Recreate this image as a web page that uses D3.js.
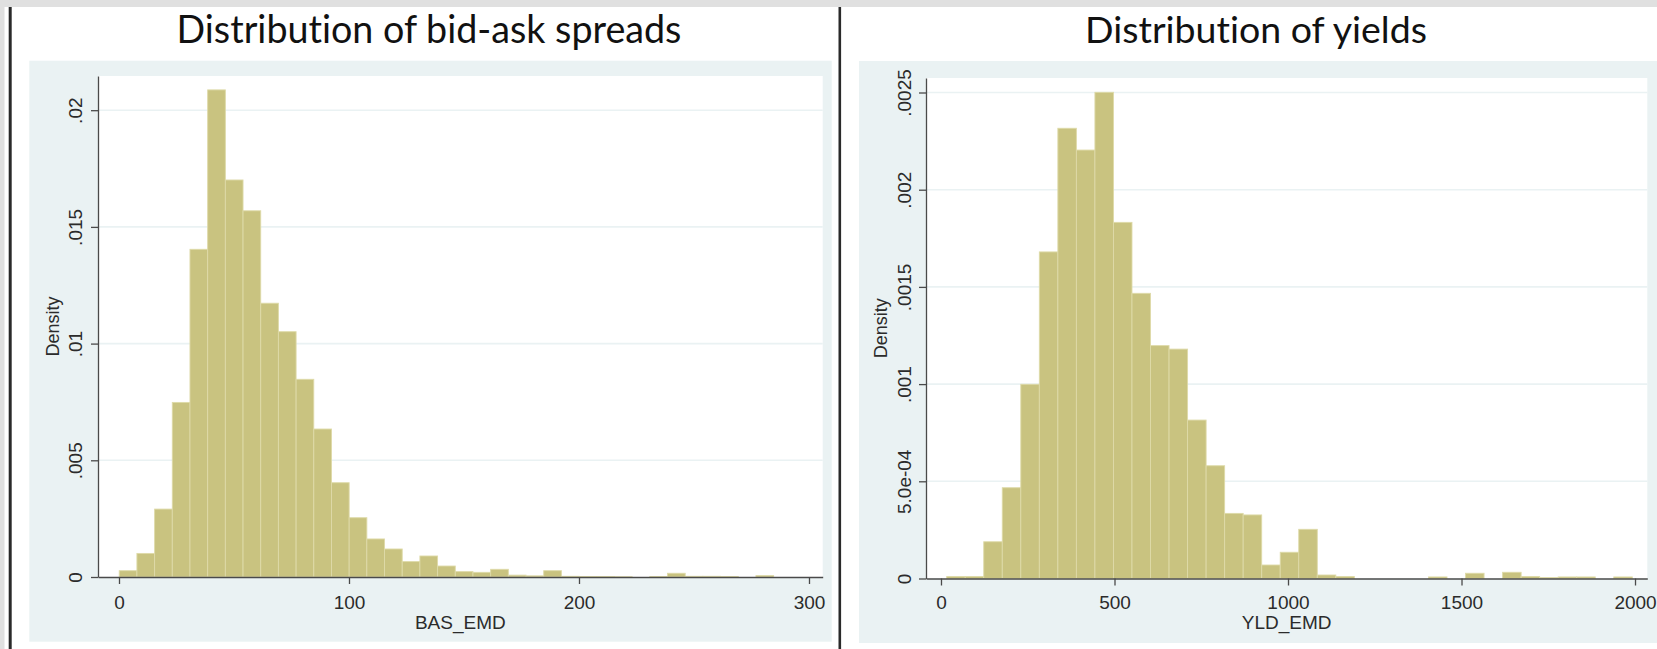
<!DOCTYPE html>
<html>
<head>
<meta charset="utf-8">
<script src="https://cdn.jsdelivr.net/npm/d3@7"></script>
<style>
  html, body { margin: 0; padding: 0; background: #ffffff; }
  svg { display: block; }
</style>
</head>
<body>
<svg id="chart" width="1657" height="649"></svg>
<script>
// ---------------- DATA ----------------
const basTitle = "Distribution of bid-ask spreads";
const basXLabel = "BAS_EMD";
const basBinStart = 0.1;
const basBinWidth = 7.69;
const basDensity = [0.00027, 0.00101, 0.00291, 0.00748, 0.01404, 0.02087, 0.01701, 0.01569,
  0.01173, 0.01051, 0.00847, 0.00634, 0.00404, 0.00254, 0.00163, 0.0012, 0.00066, 0.0009,
  0.00047, 0.00023, 0.0002, 0.00033, 0.00008, 0.00005, 0.00027, 0.00003, 0.00002, 0.00002,
  0.00001, 0, 0.00002, 0.00016, 0.00003, 0.00003, 0.00002, 0, 0.00006];
const basXTicks = [0, 100, 200, 300];
const basXTickLabels = ["0", "100", "200", "300"];
const basYTicks = [0, 0.005, 0.01, 0.015, 0.02];
const basYTickLabels = ["0", ".005", ".01", ".015", ".02"];

const yldTitle = "Distribution of yields";
const yldXLabel = "YLD_EMD";
const yldBinStart = 16.4;
const yldBinWidth = 53.4;
const yldDensity = [0.00001, 0.00001, 0.000189, 0.000467, 0.000999, 0.00168, 0.002316, 0.002204,
  0.002501, 0.001832, 0.001467, 0.001198, 0.00118, 0.000815, 0.00058, 0.000335, 0.000327,
  0.0000694, 0.000135, 0.000253, 0.000018, 0.00001, 0, 0, 0, 0, 0.000008, 0, 0.000027, 0,
  0.000032, 0.00001, 0.000005, 0.000008, 0.000008, 0, 0.000008];
const yldXTicks = [0, 500, 1000, 1500, 2000];
const yldXTickLabels = ["0", "500", "1000", "1500", "2000"];
const yldYTicks = [0, 0.0005, 0.001, 0.0015, 0.002, 0.0025];
const yldYTickLabels = ["0", "5.0e-04", ".001", ".0015", ".002", ".0025"];

const yLabel = "Density";

// ---------------- STYLE / LAYOUT ----------------
const COLORS = {
  frameGray: "#e0e0e0",
  divider: "#2a2a2a",
  outer: "#eaf2f3",
  plot: "#ffffff",
  grid: "#eaf2f3",
  bar: "#c9c380",
  barEdge: "#dedaa8",
  axis: "#4a4a4a",
  text: "#2b2b2b",
  title: "#111111"
};
const AXIS_FONT = "'Liberation Sans', Arial, sans-serif";
const TITLE_FONT = "Lato, 'Open Sans', sans-serif";

const svg = d3.select("#chart");
const W = 1657, H = 649;

svg.append("rect").attr("x", 0).attr("y", 0).attr("width", W).attr("height", H).attr("fill", "#ffffff");
svg.append("rect").attr("x", 0).attr("y", 0).attr("width", W).attr("height", 7).attr("fill", COLORS.frameGray);
svg.append("rect").attr("x", 0).attr("y", 0).attr("width", 4.5).attr("height", H).attr("fill", COLORS.frameGray);
svg.append("rect").attr("x", 8.7).attr("y", 7).attr("width", 3).attr("height", H - 7).attr("fill", COLORS.divider);
svg.append("rect").attr("x", 838.5).attr("y", 7).attr("width", 2.6).attr("height", H - 7).attr("fill", COLORS.divider);

const panels = [
  {
    title: basTitle, titleCx: 429, titleW: 505,
    xLabel: basXLabel, binStart: basBinStart, binWidth: basBinWidth, density: basDensity,
    xTicks: basXTicks, xTickLabels: basXTickLabels, yTicks: basYTicks, yTickLabels: basYTickLabels,
    outer: [29.3, 60.7, 831.7, 641.7],
    plot: [98, 76, 822.7, 577],
    xDomain: [-9.13, 305.96], yDomain: [0, 0.021465],
    yTickBase: 82, yLabelBase: 58.5
  },
  {
    title: yldTitle, titleCx: 1256, titleW: 342,
    xLabel: yldXLabel, binStart: yldBinStart, binWidth: yldBinWidth, density: yldDensity,
    xTicks: yldXTicks, xTickLabels: yldXTickLabels, yTicks: yldYTicks, yTickLabels: yldYTickLabels,
    outer: [859, 61, 1657, 643],
    plot: [926, 78, 1647.3, 578.5],
    xDomain: [-43.2, 2035.4], yDomain: [0, 0.0025746],
    yTickBase: 910.5, yLabelBase: 886.5
  }
];

panels.forEach(p => {
  const g = svg.append("g");
  const [ox0, oy0, ox1, oy1] = p.outer;
  const [px0, py0, px1, py1] = p.plot;

  g.append("rect").attr("x", ox0).attr("y", oy0).attr("width", ox1 - ox0).attr("height", oy1 - oy0)
    .attr("fill", COLORS.outer);
  g.append("rect").attr("x", px0).attr("y", py0).attr("width", px1 - px0).attr("height", py1 - py0)
    .attr("fill", COLORS.plot);

  const x = d3.scaleLinear().domain(p.xDomain).range([px0, px1]);
  const y = d3.scaleLinear().domain(p.yDomain).range([py1, py0]);

  // gridlines
  g.append("g").selectAll("line").data(p.yTicks.filter(v => v > 0)).join("line")
    .attr("x1", px0).attr("x2", px1)
    .attr("y1", d => y(d)).attr("y2", d => y(d))
    .attr("stroke", COLORS.grid).attr("stroke-width", 1.6);

  // bars
  const bins = p.density.map((d, i) => ({
    x0: p.binStart + i * p.binWidth,
    x1: p.binStart + (i + 1) * p.binWidth,
    d: d
  }));
  g.append("g").selectAll("rect").data(bins.filter(b => b.d > 0)).join("rect")
    .attr("x", b => x(b.x0))
    .attr("width", b => x(b.x1) - x(b.x0))
    .attr("y", b => y(b.d))
    .attr("height", b => y(0) - y(b.d))
    .attr("fill", COLORS.bar)
    .attr("stroke", COLORS.barEdge)
    .attr("stroke-width", 0.9);

  // y axis
  const yAxis = d3.axisLeft(y).tickValues(p.yTicks)
    .tickFormat((d, i) => p.yTickLabels[i]).tickSize(7).tickSizeOuter(0);
  const ya = g.append("g").attr("transform", `translate(${px0},0)`).call(yAxis);
  ya.select(".domain").attr("stroke", COLORS.axis).attr("stroke-width", 1.3);
  ya.selectAll(".tick line").attr("stroke", COLORS.axis).attr("stroke-width", 1.3);
  ya.selectAll(".tick text")
    .attr("transform", "rotate(-90)")
    .attr("x", 0).attr("dy", null)
    .attr("y", p.yTickBase - px0)
    .attr("text-anchor", "middle")
    .attr("fill", COLORS.text)
    .style("font-family", AXIS_FONT).style("font-size", "19px");

  // x axis
  const xAxis = d3.axisBottom(x).tickValues(p.xTicks)
    .tickFormat((d, i) => p.xTickLabels[i]).tickSize(7).tickSizeOuter(0);
  const xa = g.append("g").attr("transform", `translate(0,${py1})`).call(xAxis);
  xa.select(".domain").attr("stroke", COLORS.axis).attr("stroke-width", 1.3);
  xa.selectAll(".tick line").attr("stroke", COLORS.axis).attr("stroke-width", 1.3);
  xa.selectAll(".tick text")
    .attr("dy", null).attr("y", 608.5 - py1)
    .attr("fill", COLORS.text)
    .style("font-family", AXIS_FONT).style("font-size", "19px");

  // axis titles
  g.append("text")
    .attr("transform", `translate(${p.yLabelBase},${(py0 + py1) / 2}) rotate(-90)`)
    .attr("text-anchor", "middle")
    .attr("fill", COLORS.text)
    .style("font-family", AXIS_FONT).style("font-size", "18px")
    .text(yLabel);
  g.append("text")
    .attr("x", (px0 + px1) / 2).attr("y", 629)
    .attr("text-anchor", "middle")
    .attr("fill", COLORS.text)
    .style("font-family", AXIS_FONT).style("font-size", "19px")
    .text(p.xLabel);

  // title, sized to match the reference width
  const t = g.append("text")
    .attr("x", p.titleCx).attr("y", 43)
    .attr("text-anchor", "middle")
    .attr("fill", COLORS.title)
    .style("font-family", TITLE_FONT).style("font-size", "30px")
    .style("font-variant-ligatures", "none")
    .style("font-feature-settings", "'liga' 0")
    .text(p.title);
  const len = t.node().getComputedTextLength();
  if (len > 0) t.style("font-size", (30 * p.titleW / len).toFixed(2) + "px");
});
</script>
</body>
</html>
